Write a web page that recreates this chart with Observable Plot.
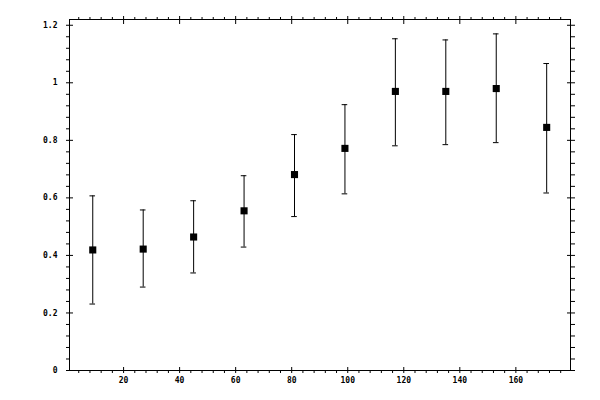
<!DOCTYPE html>
<html><head>
<meta charset="utf-8">
<script src="https://cdn.jsdelivr.net/npm/d3@7"></script>
<script src="https://cdn.jsdelivr.net/npm/@observablehq/plot@0.6"></script>
<style>body{margin:0;background:#fff}</style>
</head><body><div id="chart"></div>
<script>
const xs    = [9, 27, 45, 63, 81, 99, 117, 135, 153, 171];
const means = [0.419, 0.422, 0.464, 0.555, 0.681, 0.772, 0.970, 0.970, 0.980, 0.845];
const lows  = [0.231, 0.290, 0.339, 0.429, 0.535, 0.614, 0.781, 0.785, 0.792, 0.617];
const highs = [0.607, 0.558, 0.590, 0.677, 0.820, 0.924, 1.153, 1.149, 1.170, 1.067];
const xMajor = [20, 40, 60, 80, 100, 120, 140, 160];
const xMinor = d3.range(4, 180, 4).filter(v => v % 20 !== 0);
const yMajor = [0, 0.2, 0.4, 0.6, 0.8, 1, 1.2];
const yMinor = d3.range(1, 31).filter(i => i % 5 !== 0).map(i => i * 0.04);

const data = xs.map((x, i) => ({x, y: means[i], lo: lows[i], hi: highs[i]}));
const none = () => "";
const fmtY = d => String(+d.toFixed(2));

const chart = Plot.plot({
  width: 600, height: 400,
  marginLeft: 69, marginRight: 30, marginTop: 19, marginBottom: 30,
  style: {fontFamily: "DejaVu Sans Mono", fontSize: "8px", fontWeight: "bold", color: "black", background: "white"},
  x: {domain: [0.7, 179.5], label: null},
  y: {domain: [0, 1.22], label: null},
  marks: [
    Plot.frame({stroke: "black"}),
    // bottom axis
    Plot.axisX(xMajor, {anchor: "bottom", tickSize: 3, tickPadding: 4, tickFormat: d => d, label: null}),
    Plot.axisX(xMajor, {anchor: "bottom", tickSize: -3, tickFormat: none, label: null}),
    Plot.axisX(xMinor, {anchor: "bottom", tickSize: 3, tickFormat: none, label: null}),
    // top axis
    Plot.axisX(xMajor, {anchor: "top", tickSize: 4, tickFormat: none, label: null}),
    Plot.axisX(xMajor, {anchor: "top", tickSize: -4, tickFormat: none, label: null}),
    Plot.axisX(xMinor, {anchor: "top", tickSize: 3, tickFormat: none, label: null}),
    // left axis
    Plot.axisY(yMajor, {anchor: "left", tickSize: 3, tickPadding: 9, tickFormat: fmtY, label: null}),
    Plot.axisY(yMajor, {anchor: "left", tickSize: -4, tickFormat: none, label: null}),
    Plot.axisY(yMinor, {anchor: "left", tickSize: 3, tickFormat: none, label: null}),
    // right axis
    Plot.axisY(yMajor, {anchor: "right", tickSize: 4, tickFormat: none, label: null}),
    Plot.axisY(yMajor, {anchor: "right", tickSize: -4, tickFormat: none, label: null}),
    Plot.axisY(yMinor, {anchor: "right", tickSize: 4, tickFormat: none, label: null}),
    // error bars
    Plot.ruleX(data, {x: "x", y1: "lo", y2: "hi", stroke: "black", strokeWidth: 1}),
    Plot.ruleY(data, {y: "hi", x1: d => d.x - 1, x2: d => d.x + 1, stroke: "black", strokeWidth: 1}),
    Plot.ruleY(data, {y: "lo", x1: d => d.x - 1, x2: d => d.x + 1, stroke: "black", strokeWidth: 1}),
    Plot.dot(data, {x: "x", y: "y", symbol: "square", fill: "black", stroke: null, r: 4})
  ]
});
document.getElementById("chart").appendChild(chart);
</script>
</body></html>
